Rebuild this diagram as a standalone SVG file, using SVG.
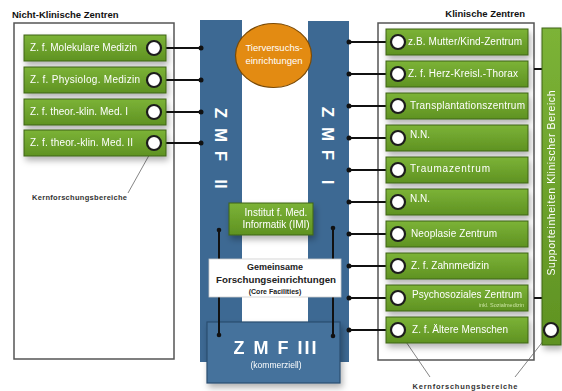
<svg xmlns="http://www.w3.org/2000/svg" width="562" height="391" viewBox="0 0 562 391">
<defs>
<linearGradient id="g" x1="0" y1="0" x2="0" y2="1">
<stop offset="0" stop-color="#7cb337"/>
<stop offset="1" stop-color="#5f9222"/>
</linearGradient>
<filter id="sh" x="-10%" y="-30%" width="130%" height="190%">
<feDropShadow dx="2" dy="4" stdDeviation="3" flood-color="#000" flood-opacity="0.3"/>
</filter>
<style>
text{font-family:"Liberation Sans",Arial,sans-serif}
.frame{fill:#fff;stroke:#555;stroke-width:1.5}
.title{font-size:9.5px;fill:#111;font-weight:bold}
.gb{fill:url(#g);stroke:#3f6316;stroke-width:1}
.gl{font-size:10px;fill:#fff}
.node{fill:#fff;stroke:#1e1e1e;stroke-width:2.2}
.bar{fill:#3d6993}
.zmf{font-size:17px;fill:#fff;font-weight:bold}
.ln{stroke:#111;stroke-width:2;fill:none}
.dot{fill:#111}
.thin{stroke:#666;stroke-width:0.8;fill:none}
.kf{font-size:7.5px;font-weight:bold;fill:#333}
</style>
</defs>
<rect width="562" height="391" fill="#fff"/>

<g id="left-frame">
<rect class="frame" x="14" y="23" width="160" height="336"/>
<text class="title" x="12" y="18">Nicht-Klinische Zentren</text>
</g>
<g id="right-frame">
<rect class="frame" x="378" y="23" width="156" height="337"/>
<text class="title" x="525" y="17" text-anchor="end">Klinische Zentren</text>
</g>

<g id="zmf2">
<rect class="bar" x="200" y="20" width="42" height="342"/>
<text class="zmf" transform="translate(221,0) rotate(90)" y="6" text-anchor="middle"><tspan x="113">Z</tspan><tspan x="135">M</tspan><tspan x="156">F</tspan><tspan x="184">II</tspan></text>
</g>
<g id="zmf1">
<rect class="bar" x="308" y="21" width="41" height="341"/>
<text class="zmf" transform="translate(328,0) rotate(90)" y="6" text-anchor="middle"><tspan x="112">Z</tspan><tspan x="134">M</tspan><tspan x="155">F</tspan><tspan x="182">I</tspan></text>
</g>

<g id="tier">
<ellipse cx="273.5" cy="55.5" rx="38" ry="32" fill="#e38b12" stroke="#7a4a06" stroke-width="1.2"/>
<text x="274" y="51" font-size="9.5" fill="#fff" text-anchor="middle">Tierversuchs-</text>
<text x="274" y="64" font-size="9.5" fill="#fff" text-anchor="middle">einrichtungen</text>
</g>

<g id="imi" filter="url(#sh)">
<rect class="gb" x="229" y="203" width="84" height="32"/>
<text class="gl" x="276" y="216" text-anchor="middle">Institut f. Med.</text>
<text class="gl" x="276" y="228" text-anchor="middle">Informatik (IMI)</text>
</g>

<g id="zmf3" filter="url(#sh)">
<rect x="207" y="322" width="133" height="61" fill="#44729c" stroke="#2a4d70" stroke-width="1.2"/>
<text x="276" y="354" font-size="18" font-weight="bold" fill="#fff" text-anchor="middle" letter-spacing="2">Z M F   III</text>
<text x="276" y="368" font-size="8.5" fill="#fff" text-anchor="middle">(kommerziell)</text>
</g>

<g id="connectors">
<path class="ln" d="M154 48H201M154 80H201M154 112H201M154 143H201"/>
<circle class="dot" cx="201" cy="48" r="2.5"/><circle class="dot" cx="201" cy="80" r="2.5"/><circle class="dot" cx="201" cy="112" r="2.5"/><circle class="dot" cx="201" cy="143" r="2.5"/>
<path class="ln" d="M349 42H398M349 74H398M349 106H398M349 138H398M349 170H398M349 202H398M349 234H398M349 266H398M349 298H398M349 330H398"/>
<circle class="dot" cx="349" cy="42" r="2.5"/><circle class="dot" cx="349" cy="74" r="2.5"/><circle class="dot" cx="349" cy="106" r="2.5"/><circle class="dot" cx="349" cy="138" r="2.5"/><circle class="dot" cx="349" cy="170" r="2.5"/><circle class="dot" cx="349" cy="202" r="2.5"/><circle class="dot" cx="349" cy="234" r="2.5"/><circle class="dot" cx="349" cy="266" r="2.5"/><circle class="dot" cx="349" cy="298" r="2.5"/><circle class="dot" cx="349" cy="330" r="2.5"/>
<path class="ln" d="M219 230V335M333 228V336" stroke-width="1.6"/>
<circle class="dot" cx="219" cy="230" r="2.3"/><circle class="dot" cx="219" cy="335" r="2.3"/><circle class="dot" cx="333" cy="228" r="2.3"/><circle class="dot" cx="333" cy="336" r="2.3"/>
<path class="ln" d="M534 69H548M534 298H549" stroke-width="1.6"/>
<circle class="dot" cx="548" cy="69" r="2.3"/><circle class="dot" cx="549" cy="298" r="2.3"/>
<path class="thin" d="M128 193L152 150M430 377L402 336M515 377L548 335"/>
</g>

<g id="gemeinsam">
<rect x="209" y="259" width="132" height="38" fill="#fff" stroke="#ccc" stroke-width="0.8"/>
<text x="275" y="270" font-size="9" font-weight="bold" fill="#222" text-anchor="middle">Gemeinsame</text>
<text x="276" y="283" font-size="9.5" font-weight="bold" fill="#222" text-anchor="middle" textLength="120" lengthAdjust="spacingAndGlyphs">Forschungseinrichtungen</text>
<text x="275" y="294" font-size="7" font-weight="bold" fill="#222" text-anchor="middle">(Core Facilities)</text>
</g>

<g id="left-nodes">
<g id="n-mol" filter="url(#sh)"><rect class="gb" x="24" y="35" width="142" height="26"/><text class="gl" x="30" y="51" textLength="107">Z. f. Molekulare Medizin</text><circle class="node" cx="154" cy="48" r="7"/></g>
<g id="n-phys" filter="url(#sh)"><rect class="gb" x="24" y="67" width="142" height="26"/><text class="gl" x="30" y="83" textLength="110">Z. f. Physiolog. Medizin</text><circle class="node" cx="154" cy="80" r="7"/></g>
<g id="n-theo1" filter="url(#sh)"><rect class="gb" x="24" y="99" width="142" height="26"/><text class="gl" x="30" y="115" textLength="98">Z. f. theor.-klin. Med. I</text><circle class="node" cx="154" cy="112" r="7"/></g>
<g id="n-theo2" filter="url(#sh)"><rect class="gb" x="24" y="130" width="142" height="26"/><text class="gl" x="30" y="146" textLength="103">Z. f. theor.-klin. Med. II</text><circle class="node" cx="154" cy="143" r="7"/></g>
<text class="kf" x="32" y="200" textLength="95">Kernforschungsbereiche</text>
</g>

<g id="right-nodes">
<g id="r1" filter="url(#sh)"><rect class="gb" x="386" y="29" width="142" height="26"/><text class="gl" x="408" y="45" textLength="114">z.B. Mutter/Kind-Zentrum</text><circle class="node" cx="398" cy="42" r="7"/></g>
<g id="r2" filter="url(#sh)"><rect class="gb" x="386" y="61" width="142" height="26"/><text class="gl" x="408" y="77" textLength="110">Z. f. Herz-Kreisl.-Thorax</text><circle class="node" cx="398" cy="74" r="7"/></g>
<g id="r3" filter="url(#sh)"><rect class="gb" x="386" y="93" width="142" height="26"/><text class="gl" x="410" y="109" textLength="115">Transplantationszentrum</text><circle class="node" cx="398" cy="106" r="7"/></g>
<g id="r4" filter="url(#sh)"><rect class="gb" x="386" y="125" width="142" height="26"/><text class="gl" x="410" y="138">N.N.</text><circle class="node" cx="398" cy="138" r="7"/></g>
<g id="r5" filter="url(#sh)"><rect class="gb" x="386" y="157" width="142" height="26"/><text class="gl" x="410" y="172" textLength="80">Traumazentrum</text><circle class="node" cx="398" cy="170" r="7"/></g>
<g id="r6" filter="url(#sh)"><rect class="gb" x="386" y="189" width="142" height="26"/><text class="gl" x="410" y="202">N.N.</text><circle class="node" cx="398" cy="202" r="7"/></g>
<g id="r7" filter="url(#sh)"><rect class="gb" x="386" y="221" width="142" height="26"/><text class="gl" x="411" y="237" textLength="86">Neoplasie Zentrum</text><circle class="node" cx="398" cy="234" r="7"/></g>
<g id="r8" filter="url(#sh)"><rect class="gb" x="386" y="253" width="142" height="26"/><text class="gl" x="411" y="269" textLength="78">Z. f. Zahnmedizin</text><circle class="node" cx="398" cy="266" r="7"/></g>
<g id="r9" filter="url(#sh)"><rect class="gb" x="386" y="285" width="142" height="26"/><text class="gl" x="412" y="298" textLength="110">Psychosoziales Zentrum</text><text x="524" y="307" font-size="5.5" fill="#c9e3a0" text-anchor="end">inkl. Sozialmedizin</text><circle class="node" cx="398" cy="298" r="7"/></g>
<g id="r10" filter="url(#sh)"><rect class="gb" x="386" y="317" width="142" height="26"/><text class="gl" x="412" y="333" textLength="96">Z. f. Ältere Menschen</text><circle class="node" cx="398" cy="330" r="7"/></g>
<text class="kf" x="465" y="389" text-anchor="middle" font-size="8" textLength="105">Kernforschungsbereiche</text>
</g>

<g id="support" filter="url(#sh)">
<rect class="gb" x="542" y="28" width="19" height="317"/>
<text transform="translate(555,183) rotate(-90)" font-size="10.5" fill="#fff" text-anchor="middle" textLength="185">Supporteinheiten Klinischer Bereich</text>
<circle class="node" cx="551" cy="330" r="7"/>
</g>
</svg>
